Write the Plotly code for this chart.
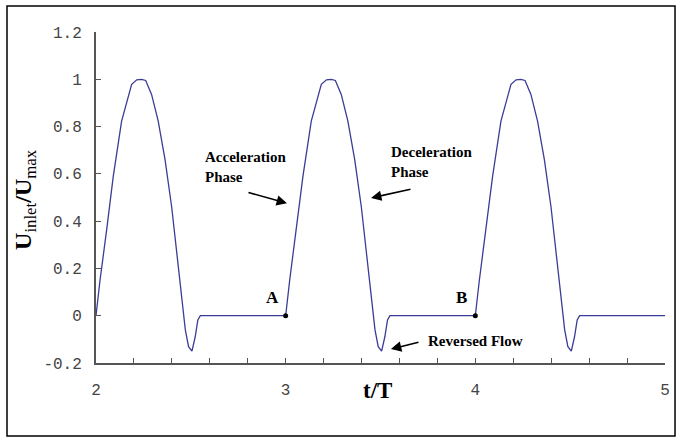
import plotly.graph_objects as go

# one period of the inlet waveform (phase within period, U/Umax)
cycle_phase = [0.000, 0.021, 0.056, 0.091, 0.135, 0.188, 0.215, 0.240, 0.262,
               0.293, 0.328, 0.364, 0.399, 0.425, 0.451, 0.471, 0.488, 0.506,
               0.523, 0.537, 0.550, 1.000]
cycle_value = [0.000, 0.149, 0.362, 0.589, 0.823, 0.979, 0.998, 1.000, 0.995,
               0.936, 0.823, 0.660, 0.460, 0.270, 0.092, -0.060, -0.131, -0.150,
               -0.089, -0.018, 0.000, 0.000]
period_starts = [2, 3, 4]

point_t = [3, 4]
point_v = [0, 0]
point_labels = ["A", "B"]

x_ticks = [2, 3, 4, 5]
x_ticktext = ["2", "3", "4", "5"]
y_ticks = [-0.2, 0, 0.2, 0.4, 0.6, 0.8, 1, 1.2]
y_ticktext = ["-0.2", "0", "0.2", "0.4", "0.6", "0.8", "1", "1.2"]

t_vals, u_vals = [], []
for k in period_starts:
    for i, (p, v) in enumerate(zip(cycle_phase, cycle_value)):
        if i == len(cycle_phase) - 1 and k != period_starts[-1]:
            continue
        t_vals.append(k + p)
        u_vals.append(v)

fig = go.Figure()
fig.add_trace(go.Scatter(x=t_vals, y=u_vals, mode="lines",
                         line=dict(color="#3B3B98", width=1.3),
                         hoverinfo="skip", showlegend=False))
fig.add_trace(go.Scatter(x=point_t, y=point_v, mode="markers",
                         marker=dict(color="black", size=5), showlegend=False))

serif = "Liberation Serif"
ann = []
for t, lab in zip(point_t, point_labels):
    ann.append(dict(x=t - 0.072, y=0.079, xref="x", yref="y", text="<b>%s</b>" % lab,
                    showarrow=False, font=dict(family=serif, size=17, color="black")))
ann.append(dict(x=2.564, y=0.631, xref="x", yref="y", xanchor="left", align="left",
                text="<b>Acceleration<br>Phase</b>", showarrow=False,
                font=dict(family=serif, size=15, color="black")))
ann.append(dict(x=3.545, y=0.652, xref="x", yref="y", xanchor="left", align="left",
                text="<b>Deceleration<br>Phase</b>", showarrow=False,
                font=dict(family=serif, size=15, color="black")))
ann.append(dict(x=4.003, y=-0.107, xref="x", yref="y", text="<b>Reversed Flow</b>",
                showarrow=False, font=dict(family=serif, size=15, color="black")))
# arrows
for hx, hy, tx, ty in [(3.007, 0.476, 2.796, 0.523),
                       (3.450, 0.498, 3.666, 0.536),
                       (3.555, -0.141, 3.708, -0.111)]:
    ann.append(dict(x=hx, y=hy, ax=tx, ay=ty, xref="x", yref="y", axref="x", ayref="y",
                    text="", showarrow=True, arrowhead=2, arrowsize=1.3, arrowwidth=1.6,
                    arrowcolor="black", standoff=0))
# axis titles
ann.append(dict(x=0.4956, y=-0.127, xref="paper", yref="paper", text="<b>t/T</b>",
                showarrow=False, font=dict(family=serif, size=23, color="black")))
ann.append(dict(x=-0.155, y=0.495, xref="paper", yref="paper", textangle=-90,
                text="<b>U</b><sub>inlet</sub><b>/U</b><sub>max</sub>",
                showarrow=False, font=dict(family=serif, size=24, color="black")))

fig.update_layout(
    width=685, height=440,
    margin=dict(l=96, r=20, t=32, b=77),
    plot_bgcolor="white", paper_bgcolor="white",
    annotations=ann,
    shapes=[dict(type="rect", xref="paper", yref="paper",
                 x0=-0.1564, x1=1.0176, y0=-0.2205, y1=1.0785,
                 line=dict(color="black", width=1.5), fillcolor="rgba(0,0,0,0)")],
    xaxis=dict(range=[2, 5], tickvals=x_ticks, ticktext=x_ticktext, ticks="inside",
               ticklen=5, tickwidth=1, tickcolor="#555", showline=True, linecolor="#555",
               linewidth=2, showgrid=False, zeroline=False, ticklabelstandoff=11,
               minor=dict(ticks="inside", dtick=0.2, ticklen=5, tickwidth=1,
                          tickcolor="#555", showgrid=False),
               tickfont=dict(family="Liberation Mono", size=16, color="#444")),
    yaxis=dict(range=[-0.2, 1.2], tickvals=y_ticks, ticktext=y_ticktext, ticks="inside",
               ticklen=5, tickwidth=1, tickcolor="#555", showline=True, linecolor="#555",
               linewidth=2, showgrid=False, zeroline=False, ticklabelstandoff=9,
               tickfont=dict(family="Liberation Mono", size=16, color="#444")),
)

fig.write_html("out.html", config={"displayModeBar": False},
               post_script="document.body.style.margin='0';")
